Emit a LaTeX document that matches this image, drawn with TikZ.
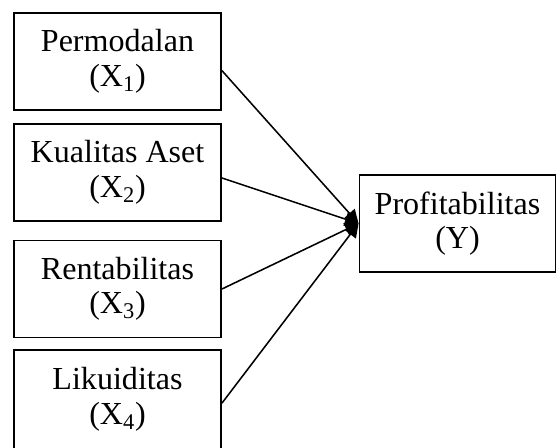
\documentclass[tikz,border=0pt]{standalone}
\usepackage{fontspec}
\setmainfont{Liberation Serif}
\usetikzlibrary{arrows.meta}

\begin{document}
\begin{tikzpicture}[
  x=0.025cm, y=-0.025cm,
  every node/.style={draw, line width=1.3pt, align=center, inner sep=2pt,
    font=\fontsize{22.8}{24.5}\selectfont},
  var/.style={minimum width=5.175cm, minimum height=2.425cm},
  link/.style={line width=1.1pt, -{Triangle[length=0.34cm,width=0.34cm]}},
  >=Stealth
]
\clip (0,0) rectangle (557,447);

\node[var] (perm) at (117.5,61.5)  {Permodalan\\(X\textsubscript{1})};
\node[var] (kual) at (117.5,172.5) {Kualitas Aset\\(X\textsubscript{2})};
\node[var] (rent) at (117.5,289)   {Rentabilitas\\(X\textsubscript{3})};
\node[var, minimum height=2.475cm] (likd) at (117.5,399.5) {Likuiditas\\(X\textsubscript{4})};

\node[minimum width=4.9cm, minimum height=2.425cm] (prof) at (457.5,223.5) {Profitabilitas\\(Y)};

\draw[link] (perm.-5) -- (prof.west);
\draw[link] (kual.-3) -- (prof.west);
\draw[link] (rent.east) -- (prof.west);
\draw[link] (likd.-2) -- (prof.west);
\end{tikzpicture}
\end{document}
